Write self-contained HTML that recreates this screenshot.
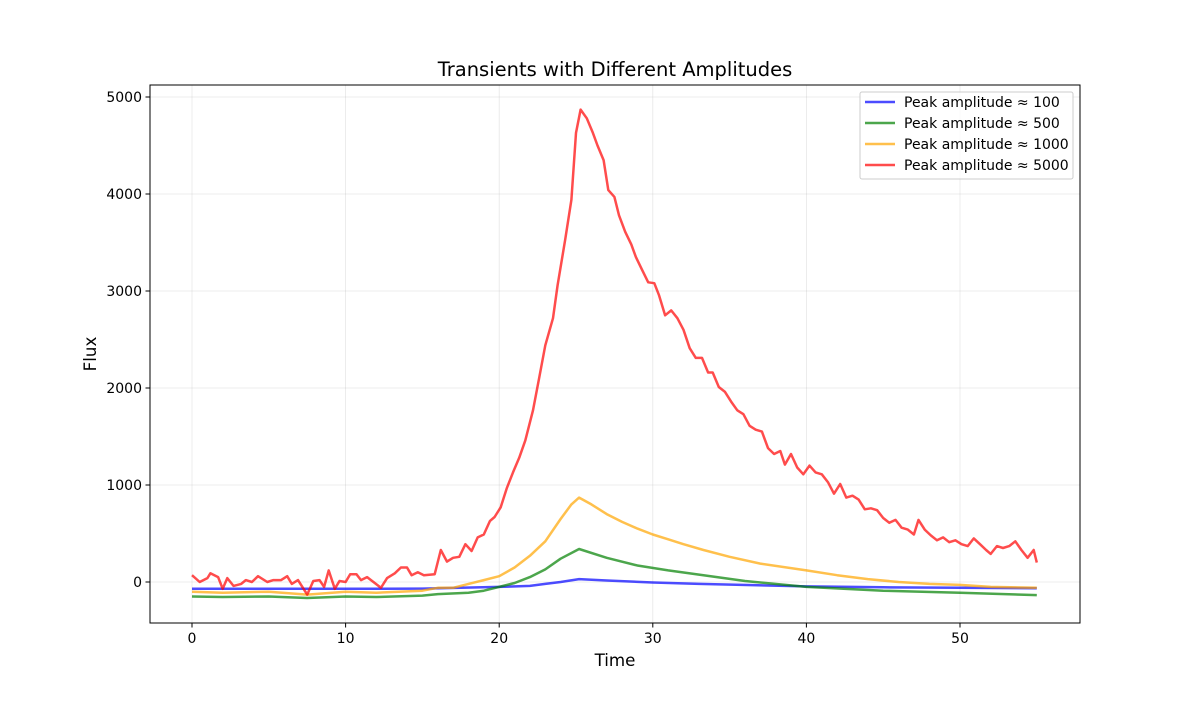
<!DOCTYPE html>
<html><head><meta charset="utf-8"><style>
body{margin:0;background:#fff;font-family:"Liberation Sans","DejaVu Sans",sans-serif;}
svg text{font-family:"DejaVu Sans","Liberation Sans",sans-serif;}
</style></head><body>
<svg id="chart" width="1200" height="700" xmlns="http://www.w3.org/2000/svg">
<rect width="1200" height="700" fill="#fff"/>
<g id="grid"></g>
<g id="series"></g>
<rect x="150" y="85" width="930" height="538" fill="none" stroke="#000" stroke-width="1"/>
<g id="ticks"></g>
<text x="615" y="76" font-size="19.5" text-anchor="middle">Transients with Different Amplitudes</text>
<text x="615" y="666" font-size="16.7" text-anchor="middle">Time</text>
<text x="96" y="354" font-size="16.7" text-anchor="middle" transform="rotate(-90 96 354)">Flux</text>
<g id="legend">
<rect x="860" y="92" width="213" height="87" fill="#fff" fill-opacity="0.8" stroke="#ccc" rx="2"/>
</g>
</svg>
<script>
const xTicks=[0,10,20,30,40,50];
const yTicks=[0,1000,2000,3000,4000,5000];
const seriesNames=["Peak amplitude ≈ 100","Peak amplitude ≈ 500","Peak amplitude ≈ 1000","Peak amplitude ≈ 5000"];
const seriesColors=["#0000ff","#008000","#ffa500","#ff0000"];
const blueT=[0,5,10,15,20,22,23,24,25.2,27,30,33,40,45,50,55];
const blueV=[-70,-70,-70,-68,-50,-40,-20,0,30,15,-5,-20,-45,-55,-60,-65];
const greenT=[0,2,5,7.5,10,12,15,16,18,19,20,21,22,23,24,25.2,27,29,31,33.3,36,40,45,50,55];
const greenV=[-150,-155,-150,-165,-150,-155,-140,-125,-110,-90,-50,-10,50,130,240,340,250,170,120,70,10,-50,-90,-110,-135];
const yellowT=[0,2,5,7.5,10,12,15,16,17,18,19,20,21,22,23,24,24.7,25.2,26,27,28,29,30,31,32,33.3,35,37,40,42,44,46,48,50,52,55];
const yellowV=[-100,-110,-100,-130,-100,-110,-90,-60,-60,-20,20,60,150,270,420,650,800,870,800,700,620,550,490,440,390,330,260,190,120,70,30,0,-20,-30,-50,-60];
const redT=[0,0.5,1,1.2,1.7,2,2.3,2.7,3.2,3.5,3.9,4.3,4.9,5.3,5.8,6.2,6.5,6.9,7.5,7.9,8.3,8.6,8.9,9.3,9.6,10,10.3,10.7,11,11.4,12.3,12.7,13.2,13.6,14,14.3,14.7,15.1,15.8,16.2,16.6,17,17.4,17.8,18.2,18.6,19,19.4,19.7,20.1,20.5,20.9,21.3,21.7,22.2,22.6,23,23.5,23.8,24.3,24.7,25,25.3,25.7,26.1,26.4,26.8,27.1,27.5,27.8,28.2,28.6,28.9,29.3,29.7,30.1,30.4,30.8,31.2,31.6,32,32.4,32.8,33.2,33.6,33.9,34.3,34.7,35.1,35.5,35.9,36.3,36.7,37.1,37.5,37.9,38.3,38.6,39,39.4,39.8,40.2,40.6,41,41.4,41.8,42.2,42.6,43,43.4,43.8,44.2,44.6,45,45.4,45.8,46.2,46.6,47,47.3,47.7,48.1,48.5,48.9,49.3,49.7,50.1,50.5,50.9,51.3,51.7,52,52.4,52.8,53.2,53.6,54,54.4,54.8,55];
const redV=[70,0,40,90,50,-70,40,-40,-20,20,0,60,0,20,20,60,-20,20,-130,10,20,-50,120,-70,10,0,80,80,20,50,-60,40,90,150,150,70,100,70,80,330,210,250,260,390,320,460,490,630,670,770,970,1130,1280,1460,1770,2100,2440,2720,3060,3530,3940,4630,4870,4780,4630,4500,4350,4040,3970,3780,3610,3480,3350,3220,3090,3080,2960,2750,2800,2720,2600,2410,2310,2310,2160,2160,2010,1960,1860,1770,1730,1610,1570,1550,1380,1320,1350,1210,1320,1180,1110,1200,1130,1110,1030,910,1010,870,890,850,750,760,740,660,610,640,560,540,490,640,540,480,430,460,410,430,390,370,450,390,330,290,370,350,370,420,330,250,330,200];
const X=t=>192+t*15.36;
const Y=v=>582-v*0.097;
const NS="http://www.w3.org/2000/svg";
function mk(tag,attrs,parent){const e=document.createElementNS(NS,tag);for(const k in attrs)e.setAttribute(k,attrs[k]);parent.appendChild(e);return e;}
const grid=document.getElementById('grid'),ticks=document.getElementById('ticks'),ser=document.getElementById('series'),leg=document.getElementById('legend');
xTicks.forEach(t=>{
 const g=mk('line',{x1:X(t),x2:X(t),y1:85,y2:623,stroke:'#b0b0b0','stroke-opacity':0.3,'stroke-width':0.8},grid);
 
 
 const tk=mk('line',{x1:X(t),x2:X(t),y1:623,y2:627.5,stroke:'#000'},ticks);
 
 
 const tx=mk('text',{x:X(t),y:643,'font-size':14,'text-anchor':'middle'},ticks);tx.textContent=t;
 
 
});
yTicks.forEach(v=>{
 const g=mk('line',{x1:150,x2:1080,y1:Y(v),y2:Y(v),stroke:'#b0b0b0','stroke-opacity':0.3,'stroke-width':0.8},grid);
 
 
 const tk=mk('line',{x1:145.5,x2:150,y1:Y(v),y2:Y(v),stroke:'#000'},ticks);
 
 
 const tx=mk('text',{x:142,y:Y(v)+5,'font-size':14,'text-anchor':'end'},ticks);tx.textContent=v;
 
 
});
const data=[[blueT,blueV],[greenT,greenV],[yellowT,yellowV],[redT,redV]];
const lineNames=['line-amp-100','line-amp-500','line-amp-1000','line-amp-5000'];
data.forEach((d,i)=>{
 const pts=d[0].map((t,j)=>X(t).toFixed(1)+','+Y(d[1][j]).toFixed(1)).join(' ');
 const p=mk('polyline',{points:pts,fill:'none',stroke:seriesColors[i],'stroke-opacity':0.7,'stroke-width':2.5,'stroke-linejoin':'round'},ser);
 
 
 const y=102+i*21;
 const ll=mk('line',{x1:865,x2:895,y1:y,y2:y,stroke:seriesColors[i],'stroke-opacity':0.7,'stroke-width':2.5},leg);
 
 
 const lt=mk('text',{x:904,y:y+5,'font-size':14},leg);lt.textContent=seriesNames[i];
 
 
});
</script>
</body></html>
